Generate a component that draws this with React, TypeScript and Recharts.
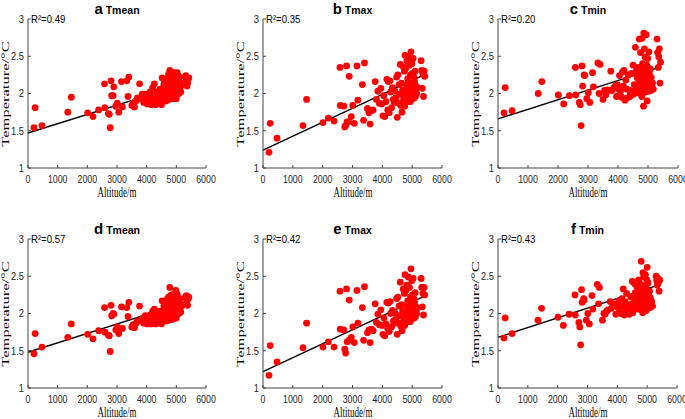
import React from "react";
import { ScatterChart, Scatter, XAxis, YAxis, ReferenceLine } from "recharts";

// station altitudes (m), shared by all six panels
const altitude = [
  200, 240, 470, 1340, 1460, 2010, 2190, 2380, 2580, 2590, 2710, 2740, 2770, 2800, 2820, 2870, 2890,
  2960, 3010, 3060, 3150, 3180, 3330, 3370, 3400, 3500, 3550, 3590, 3640, 3690, 3760, 3800, 3850, 3900,
  3950, 3980, 4020, 4050, 4080, 4120, 4150, 4180, 4200, 4230, 4260, 4280, 4310, 4340, 4370, 4400,
  4420, 4450, 4480, 4500, 4520, 4540, 4560, 4580, 4600, 4620, 4640, 4660, 4680, 4700, 4710, 4720,
  4740, 4750, 4760, 4780, 4790, 4800, 4810, 4820, 4840, 4850, 4860, 4870, 4880, 4890, 4900, 4910,
  4920, 4930, 4940, 4950, 4960, 4970, 4980, 4990, 5000, 5010, 5020, 5030, 5040, 5050, 5060, 5070,
  5080, 5090, 5100, 5110, 5130, 5150, 5180, 5300, 5320, 5340, 5360, 5380, 5400, 5420,
];

const tmeanA = [
  1.54, 1.81, 1.57, 1.75, 1.95, 1.74, 1.69, 1.78, 2.13, 1.81, 1.73, 1.72, 1.54, 2.17, 1.97, 1.97, 2.09,
  1.83, 1.87, 1.75, 2.16, 1.82, 2.17, 1.96, 2.22, 1.84, 1.87, 1.82, 1.9, 1.94, 2.13, 1.93, 1.99, 1.88,
  1.99, 1.92, 1.86, 1.96, 1.9, 2.02, 1.85, 1.95, 2.08, 1.88, 2.13, 1.97, 1.85, 2.02, 1.93, 1.99, 1.9, 2.06, 1.96, 1.85,
  2.21, 2.03, 1.92, 2.12, 2.17, 1.98, 2.06, 1.9, 2.1, 2.2, 1.95, 2.05, 2.26, 1.92, 2.14, 2.31, 2.02, 2.22, 1.96, 2.1,
  2.27, 2.0, 2.16, 1.93, 2.24, 2.08, 2.19, 1.99, 2.28, 2.12, 2.04, 2.22, 1.95, 2.15, 2.26, 2.06, 1.93, 2.2, 2.1, 2.28,
  2.02, 2.17, 2.24, 2.08, 2.13, 2.0, 2.22, 2.06, 2.15, 2.02, 2.11, 2.22, 2.24, 2.18, 2.1, 2.14, 2.19, 2.21,
];

const tmaxB = [
  1.21, 1.6, 1.4, 1.57, 1.92, 1.61, 1.67, 1.63, 2.35, 1.84, 1.83, 1.55, 1.57, 2.37, 1.62, 1.62, 2.23,
  1.69, 1.84, 1.6, 2.37, 1.91, 2.12, 1.64, 2.41, 1.8, 1.74, 1.59, 1.77, 1.78, 2.16, 1.92, 2.03, 1.87,
  2.07, 1.86, 1.7, 1.97, 1.69, 1.89, 2.19, 1.78, 2.16, 1.74, 2.17, 2.02, 1.81, 2.08, 1.92, 1.88, 2.03, 1.94, 2.22, 1.68,
  2.25, 1.87, 2.12, 1.99, 2.39, 1.84, 2.14, 1.75, 2.05, 2.36, 1.92, 2.0, 2.3, 1.83, 2.51, 1.88, 2.34, 2.12, 1.95, 2.44,
  2.01, 2.2, 1.9, 2.48, 2.08, 2.15, 1.97, 2.38, 2.1, 1.89, 2.25, 2.03, 2.56, 2.14, 1.92, 2.4, 2.06, 2.27, 1.98, 2.47,
  2.12, 2.01, 2.22, 1.94, 2.16, 2.05, 2.3, 1.96, 2.1, 2.0, 2.08, 2.44, 2.31, 2.07, 2.26, 1.96, 2.3, 2.23,
];

const tminC = [
  1.74, 2.08, 1.77, 2.0, 2.16, 1.98, 1.86, 1.97, 2.35, 1.98, 1.88, 1.85, 1.57, 2.37, 2.1, 2.25, 2.24,
  1.93, 2.01, 1.88, 2.28, 2.09, 2.41, 2.0, 2.39, 1.92, 2.04, 1.98, 2.05, 2.04, 2.3, 2.04, 2.07, 2.1,
  1.96, 2.12, 2.06, 2.24, 2.03, 1.95, 2.29, 2.1, 2.31, 1.91, 2.18, 2.06, 1.94, 2.25, 2.05, 1.96, 2.0, 2.27, 2.03, 2.38,
  1.99, 2.12, 2.02, 2.62, 2.3, 2.07, 2.21, 2.35, 2.01, 2.15, 2.73, 2.28, 2.08, 2.55, 2.19, 2.33, 1.96, 2.74, 2.12, 2.4,
  2.05, 1.83, 2.81, 2.24, 2.6, 2.14, 2.49, 2.02, 2.3, 2.18, 2.79, 2.08, 2.38, 1.9, 2.22, 2.47, 2.11, 2.28, 2.03, 2.56,
  2.15, 2.26, 2.07, 2.19, 2.33, 2.1, 2.04, 2.21, 2.08, 2.14, 2.06, 2.73, 2.55, 2.35, 2.49, 2.6, 2.14, 2.42,
];

const tmeanD = [
  1.46, 1.73, 1.55, 1.68, 1.86, 1.72, 1.66, 1.77, 2.08, 1.75, 1.71, 1.7, 1.49, 2.11, 1.97, 2.0, 1.99,
  1.78, 1.82, 1.73, 2.09, 1.8, 2.08, 1.96, 2.15, 1.82, 1.85, 1.81, 1.87, 1.9, 2.1, 1.9, 1.93, 1.87,
  1.97, 1.9, 1.86, 1.93, 1.88, 1.98, 1.86, 1.92, 2.03, 1.88, 2.06, 1.95, 1.86, 1.98, 1.91, 1.95, 1.89, 2.03, 1.94, 1.86,
  2.17, 2.0, 1.91, 2.1, 2.14, 1.97, 2.03, 1.9, 2.07, 2.2, 1.93, 2.03, 2.22, 1.91, 2.12, 2.35, 2.01, 2.24, 1.96, 2.08,
  2.25, 1.99, 2.14, 1.92, 2.22, 2.06, 2.17, 1.98, 2.26, 2.1, 2.03, 2.19, 1.94, 2.13, 2.31, 2.05, 1.94, 2.18, 2.09, 2.26,
  2.01, 2.15, 2.22, 2.06, 2.12, 2.0, 2.2, 2.05, 2.14, 2.02, 2.1, 2.21, 2.23, 2.24, 2.17, 2.11, 2.2, 2.22,
];

const tmaxE = [
  1.17, 1.57, 1.35, 1.54, 1.87, 1.55, 1.62, 1.55, 2.3, 1.79, 1.78, 1.52, 1.47, 2.33, 1.62, 1.64, 2.18,
  1.68, 1.82, 1.61, 2.31, 1.87, 2.08, 1.64, 2.36, 1.74, 1.78, 1.61, 1.79, 1.77, 2.13, 1.88, 1.99, 1.85,
  2.05, 1.84, 1.72, 1.94, 1.7, 1.86, 2.15, 1.8, 2.14, 1.76, 2.16, 2.0, 1.82, 2.04, 1.9, 1.87, 2.01, 1.92, 2.2, 1.72,
  2.22, 1.87, 2.1, 1.97, 2.42, 1.83, 2.12, 1.77, 2.03, 2.33, 1.9, 1.99, 2.27, 1.84, 2.52, 1.88, 2.31, 2.11, 1.95, 2.38,
  2.0, 2.17, 1.9, 2.49, 2.07, 2.14, 1.96, 2.35, 2.09, 1.89, 2.22, 2.03, 2.6, 2.13, 1.92, 2.44, 2.05, 2.25, 1.98, 2.47,
  2.11, 2.01, 2.2, 1.94, 2.15, 2.04, 2.28, 1.96, 2.09, 2.0, 2.07, 2.47, 2.35, 2.09, 2.27, 1.98, 2.35, 2.25,
];

const tminF = [
  1.67, 1.94, 1.73, 1.91, 2.07, 1.95, 1.84, 1.99, 2.25, 1.98, 1.88, 1.82, 1.58, 2.32, 2.15, 2.2, 2.18,
  1.91, 2.0, 1.86, 2.24, 2.06, 2.39, 2.13, 2.35, 1.91, 2.0, 1.99, 2.03, 2.05, 2.16, 2.07, 2.1, 2.13,
  1.99, 2.12, 2.08, 2.17, 2.02, 2.0, 2.2, 2.1, 2.33, 1.98, 2.16, 2.05, 2.27, 2.09, 2.03, 1.99, 2.12, 2.22, 2.05, 2.43,
  2.01, 2.14, 2.08, 2.4, 2.28, 2.1, 2.2, 2.36, 2.06, 2.16, 2.45, 2.27, 2.12, 2.4, 2.2, 2.32, 2.05, 2.7, 2.15, 2.38,
  2.1, 2.01, 2.55, 2.24, 2.49, 2.16, 2.36, 2.08, 2.29, 2.19, 2.52, 2.12, 2.34, 2.04, 2.22, 2.45, 2.62, 2.27, 2.09, 2.41,
  2.17, 2.25, 2.11, 2.19, 2.3, 2.14, 2.08, 2.21, 2.13, 2.16, 2.1, 2.5, 2.44, 2.38, 2.47, 2.42, 2.3, 2.45,
];

// fitted line values at altitude 0 and at fitEndAlt
const fitStart = [1.47, 1.24, 1.66, 1.48, 1.22, 1.68];
const fitEnd = [2.15, 2.26, 2.36, 2.17, 2.24, 2.39];
const fitEndAlt = 5450;
const r2Labels = ["0.49", "0.35", "0.20", "0.57", "0.42", "0.43"];
const letters = ["a", "b", "c", "d", "e", "f"];
const names = ["Tmean", "Tmax", "Tmin", "Tmean", "Tmax", "Tmin"];
const series = [tmeanA, tmaxB, tminC, tmeanD, tmaxE, tminF];

const xTicks = [0, 1000, 2000, 3000, 4000, 5000, 6000];
const yTicks = [1, 1.5, 2, 2.5, 3];

const SANS = '"Liberation Sans", Arial, sans-serif';
const SERIF = '"Liberation Serif", "Times New Roman", serif';

// plot areas in page pixels
const rects = [
  { left: 28, top: 19, right: 206, bottom: 168 },
  { left: 263, top: 19, right: 442, bottom: 168 },
  { left: 498, top: 19, right: 678, bottom: 168 },
  { left: 28, top: 239, right: 206, bottom: 388 },
  { left: 263, top: 239, right: 442, bottom: 388 },
  { left: 498, top: 239, right: 677, bottom: 388 },
];

const XTick = (props: any) => {
  const { x, y, payload } = props;
  return (
    <g transform={`translate(${x},${y})`}>
      <text transform="scale(0.8,1)" textAnchor="middle" dy="0.71em" fontSize={11} fontFamily={SANS} fill="#262626">
        {payload.value}
      </text>
    </g>
  );
};

const YTick = (props: any) => {
  const { x, y, payload } = props;
  return (
    <g transform={`translate(${x},${y})`}>
      <text transform="scale(0.85,1)" textAnchor="end" dy="0.36em" fontSize={11} fontFamily={SANS} fill="#262626">
        {payload.value}
      </text>
    </g>
  );
};

const RedDot = (props: any) => <circle cx={props.cx} cy={props.cy} r={3.4} fill="#ff0000" />;

function Anchor({ x, y, transform, align = "center", style, children }: any) {
  return (
    <div style={{ position: "absolute", left: x, top: y, width: 0, height: 0, transform, transformOrigin: "0 0" }}>
      <div
        style={{
          position: "absolute",
          left: 0,
          top: 0,
          transform: align === "center" ? "translate(-50%,-50%)" : "translate(0,-50%)",
          transformOrigin: "0 50%",
          whiteSpace: "nowrap",
          color: "#000",
          ...style,
        }}
      >
        {children}
      </div>
    </div>
  );
}

function Panel({ idx }: { idx: number }) {
  const rect = rects[idx];
  const values = series[idx];
  const data = altitude.map((a, i) => ({ x: a, y: values[i] }));
  const padL = 30, padT = 10, padR = 10, padB = 30;
  const w = rect.right - rect.left;
  const h = rect.bottom - rect.top;
  const cx = (rect.left + rect.right) / 2;
  const cy = (rect.top + rect.bottom) / 2;
  return (
    <>
      <div style={{ position: "absolute", left: rect.left - padL, top: rect.top - padT }}>
        <ScatterChart width={w + padL + padR} height={h + padT + padB} margin={{ top: padT, right: padR, left: 0, bottom: 0 }}>
          <XAxis
            type="number"
            dataKey="x"
            domain={[0, 6000]}
            ticks={xTicks}
            interval={0}
            height={padB}
            tick={<XTick />}
            tickSize={-3}
            tickMargin={10}
            axisLine={{ stroke: "#444" }}
            tickLine={{ stroke: "#444" }}
          />
          <YAxis
            type="number"
            dataKey="y"
            domain={[1, 3]}
            ticks={yTicks}
            interval={0}
            width={padL}
            tick={<YTick />}
            tickSize={-3}
            tickMargin={7}
            axisLine={{ stroke: "#444" }}
            tickLine={{ stroke: "#444" }}
          />
          <Scatter data={data} shape={RedDot} isAnimationActive={false} />
          <ReferenceLine
            segment={[
              { x: 0, y: fitStart[idx] },
              { x: fitEndAlt, y: fitEnd[idx] },
            ]}
            stroke="#000"
            strokeWidth={1.4}
          />
        </ScatterChart>
      </div>
      <Anchor x={cx} y={rect.top - 10} style={{ fontFamily: SANS, fontWeight: 700, lineHeight: "18px" }}>
        <span style={{ fontSize: 15 }}>{letters[idx]}</span>
        <span style={{ fontSize: 10.5 }}> {names[idx]}</span>
      </Anchor>
      <Anchor
        x={rect.left + 3}
        y={rect.top}
        align="left"
        style={{ fontFamily: SANS, fontSize: 11, lineHeight: "14px", transform: "translate(0,-50%) scaleX(0.87)" }}
      >
        R²={r2Labels[idx]}
      </Anchor>
      <Anchor x={cx} y={rect.bottom + 25} transform="scaleX(0.64)" style={{ fontFamily: SERIF, fontSize: 14, lineHeight: "16px" }}>
        Altitude/m
      </Anchor>
      <Anchor
        x={rect.left - 22}
        y={cy}
        transform="scaleX(0.6) rotate(-90deg)"
        style={{ fontFamily: SERIF, fontSize: 16.5, lineHeight: "18px" }}
      >
        Temperature/°C
      </Anchor>
    </>
  );
}

export default function App() {
  return (
    <div
      style={{
        position: "absolute",
        left: 0,
        top: 0,
        width: 685,
        height: 419,
        overflow: "hidden",
        background: "#fff",
      }}
    >
      {rects.map((_, i) => (
        <Panel key={i} idx={i} />
      ))}
    </div>
  );
}
